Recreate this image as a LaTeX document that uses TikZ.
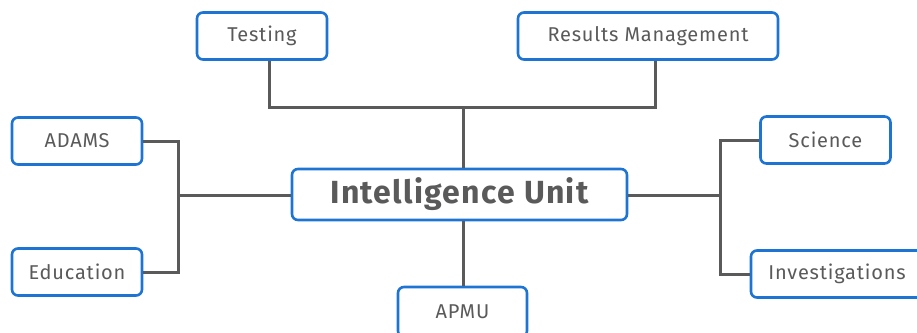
\documentclass[tikz,border=0pt]{standalone}
\usepackage{fontspec}
\setmainfont{Fira Sans}[LetterSpace=4]
\definecolor{unitblue}{HTML}{1E74D2}
\definecolor{unitgray}{HTML}{5A5A5A}
\tikzset{
  % riquadri dei settori
  topic/.style={draw=unitblue, line width=2.6pt, rounded corners=6pt,
    fill=white, text=unitgray, inner sep=0pt, minimum height=47pt,
    font=\fontsize{20}{24}\selectfont},
  % riquadro centrale
  hub/.style={topic, minimum height=51pt, minimum width=335pt,
    font=\fontsize{32}{36}\selectfont\bfseries},
  % collegamenti
  link/.style={draw=unitgray, line width=3pt}
}

\begin{document}
\begin{tikzpicture}[x=1pt, y=-1pt]
  \useasboundingbox (0,0) rectangle (917,332);

  % coordinate dei bus
  \coordinate (topbus) at (463,107);
  \coordinate (leftbus) at (178,195);
  \coordinate (rightbus) at (720,195);

  \node[hub] (unit) at (459.5,194.5) {Intelligence Unit};

  \node[topic, minimum width=130pt] (testing) at (262,36) {Testing};
  \node[topic, minimum width=260pt] (results) at (648,36) {Results Management};
  \node[topic, minimum width=130pt] (adams) at (77,141) {ADAMS};
  \node[topic, minimum width=130pt] (education) at (77,272) {Education};
  \node[topic, minimum width=130pt] (science) at (825.5,140) {Science};
  \node[topic, minimum width=172pt] (invest) at (837,274) {Investigations};
  \node[topic, minimum width=129pt, minimum height=50pt] (apmu) at (462.5,312) {APMU};

  % rami in alto
  \draw[link] ([xshift=7]testing.south) |- (topbus) -| ([xshift=7]results.south);
  \draw[link] (topbus) -- (unit.north -| topbus);
  % rami a sinistra
  \draw[link] (unit.west |- leftbus) -- (leftbus);
  \draw[link] (adams.east) -| (leftbus) |- (education.east);
  % rami a destra
  \draw[link] (unit.east |- rightbus) -- (rightbus);
  \draw[link] (science.west) -| (rightbus) |- (invest.west);
  % ramo in basso
  \draw[link] (unit.south -| topbus) -- (apmu.north -| topbus);
\end{tikzpicture}
\end{document}
